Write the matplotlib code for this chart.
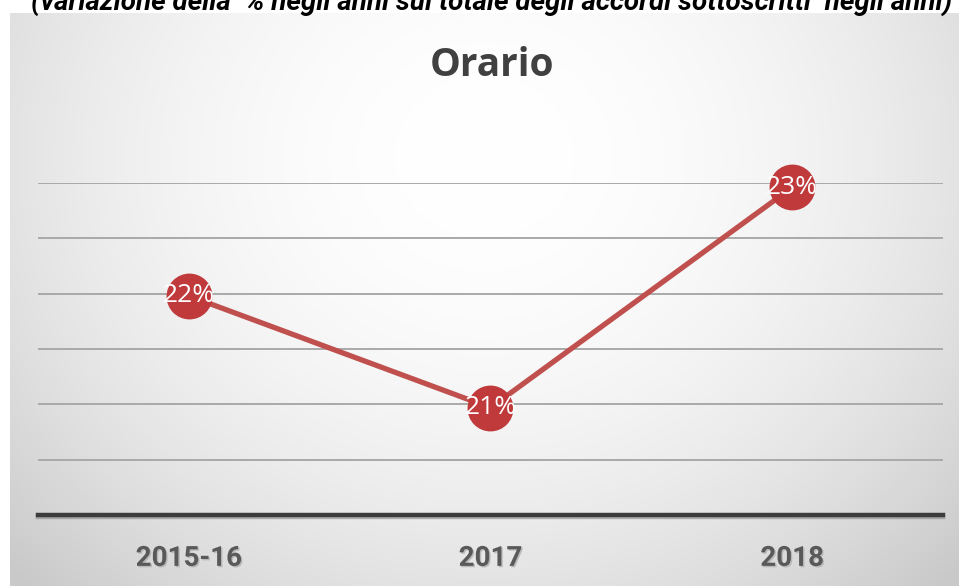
import numpy as np
import matplotlib
matplotlib.use("Agg")
import matplotlib.pyplot as plt
from matplotlib import font_manager
import matplotlib.patheffects as pe

# ---- data ----
categories = ["2015-16", "2017", "2018"]
orario_share = [0.2198, 0.2097, 0.2296]
title = "Orario"
subtitle = "(variazione della  % negli anni sul totale degli accordi sottoscritti  negli anni)"

# ---- fonts ----
available = {f.name for f in font_manager.fontManager.ttflist}
narrow = "Roboto" if "Roboto" in available else "DejaVu Sans"
body = "Open Sans" if "Open Sans" in available else "DejaVu Sans"

W, H = 959, 586
fig = plt.figure(figsize=(W / 100, H / 100), dpi=100)
fig.patch.set_facecolor("white")

# ---- chart panel with a soft radial gradient ----
px0, px1, py_top = 10, 959, 13
bg = fig.add_axes([px0 / W, 0, (px1 - px0) / W, (H - py_top) / H])
gx = np.linspace(-1, 1, 600)
gy = np.linspace(-1, 1, 400)
X, Y = np.meshgrid(gx, gy)
cy = -0.5  # light centre near the top of the panel
R2 = (X * 0.9) ** 2 + ((Y - cy) * 0.6) ** 2
v = 1.0 - 0.135 * R2
v = np.clip(v, 0.79, 1.0)
img = np.dstack([v, v, v])
bg.imshow(img, aspect="auto", extent=[0, 1, 1, 0], interpolation="bilinear")
bg.set_axis_off()

# ---- plot area ----
left, right = 38, 943
bottom_px, top_px = 515, 183
ax = fig.add_axes([left / W, (H - bottom_px) / H, (right - left) / W, (bottom_px - top_px) / H])
ax.patch.set_alpha(0)
ax.set_ylim(0.20, 0.23)
ax.set_xlim(-0.5, len(categories) - 0.5)
ax.set_yticks(np.arange(0.205, 0.2301, 0.005))
ax.yaxis.grid(True, color="#a9a9a9", linewidth=1.4)
ax.set_axisbelow(True)
for s in ("left", "right", "top"):
    ax.spines[s].set_visible(False)
ax.spines["bottom"].set_color("#3c3c3c")
ax.spines["bottom"].set_linewidth(3.2)
ax.spines["bottom"].set_path_effects([
    pe.SimpleLineShadow(offset=(0, -1.5), shadow_color="#888888", alpha=0.6),
    pe.Normal(),
])
ax.tick_params(axis="y", left=False, labelleft=False)
ax.tick_params(axis="x", bottom=False, pad=18)
x = np.arange(len(categories))
ax.set_xticks(x)
ax.set_xticklabels(categories, fontsize=20, fontweight="bold", color="#595959",
                   family=[narrow, "DejaVu Sans"])
for lab in ax.get_xticklabels():
    lab.set_path_effects([
        pe.withSimplePatchShadow(offset=(1, -1), shadow_rgbFace="#b0b0b0", alpha=0.8),
    ])

ax.plot(x, orario_share, color="#c0504d", linewidth=3.8, solid_capstyle="round",
        marker="o", markersize=32, markerfacecolor="#c0393b", markeredgecolor="#c0393b",
        clip_on=False, zorder=3)
for xi, val in zip(x, orario_share):
    ax.text(xi, val, f"{val * 100:.0f}%", ha="center", va="center", fontsize=19,
            color="white", family=[body, "DejaVu Sans"], zorder=4, clip_on=False)

# ---- titles ----
fig.text(0.5 * (428 + 555) / W, 1 - 65 / H, title, ha="center", va="center",
         fontsize=28, fontweight="bold", color="#404040", family=[body, "DejaVu Sans"])
fig.text((28 + 955) / 2 / W, 1 - 11 / H, subtitle, ha="center", va="baseline",
         fontsize=20, fontweight="bold", style="italic", color="black",
         family=[narrow, "DejaVu Sans"])

fig.savefig("out.png", dpi=100, facecolor="white")
